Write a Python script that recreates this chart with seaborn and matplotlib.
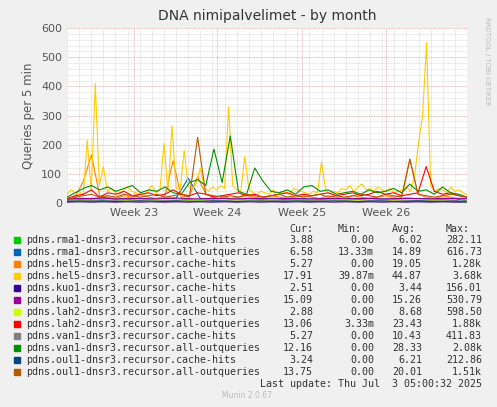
import numpy as np
import matplotlib
matplotlib.use("Agg")
import matplotlib.pyplot as plt
import seaborn as sns

# values (queries per 5 min)
hel5_all = [30, 45, 35, 40, 25, 215, 40, 410, 60, 125,
            40, 50, 35, 30, 45, 55, 40, 35, 30, 25,
            40, 60, 35, 45, 205, 40, 265, 50, 45, 180,
            60, 45, 70, 120, 50, 40, 55, 45, 60, 50,
            330, 60, 45, 40, 160, 50, 35, 30, 40, 35,
            30, 45, 25, 40, 35, 30, 50, 45, 40, 35,
            30, 40, 35, 140, 45, 30, 40, 35, 50, 45,
            60, 40, 55, 65, 45, 50, 40, 55, 45, 40,
            50, 35, 40, 45, 55, 40, 90, 205, 300, 550,
            60, 40, 50, 45, 35, 55, 40, 45, 35, 30]
van1_all = [20, 35, 50, 60, 45, 55, 40, 50, 60, 35,
            45, 40, 55, 35, 30, 70, 80, 60, 185, 70,
            230, 40, 30, 120, 75, 40, 35, 45, 30, 55,
            60, 40, 45, 30, 35, 40, 30, 45, 35, 40,
            50, 35, 65, 40, 45, 30, 55, 35, 30, 20]
lah2_all = [15, 25, 30, 45, 20, 35, 30, 40, 25, 30,
            35, 25, 30, 45, 30, 25, 35, 30, 20, 25,
            30, 35, 25, 30, 20, 25, 30, 35, 25, 30,
            25, 30, 35, 25, 30, 35, 25, 30, 40, 30,
            35, 25, 30, 35, 125, 40, 30, 35, 25, 20]
oul1_all = [10, 20, 25, 30, 20, 25, 20, 30, 25, 20,
            25, 30, 20, 25, 30, 20, 225, 30, 25, 20,
            25, 20, 30, 25, 20, 25, 30, 20, 25, 20,
            25, 30, 20, 25, 20, 25, 30, 25, 20, 30,
            25, 20, 150, 30, 25, 20, 25, 30, 25, 20]
hel5_hits = [10, 20, 75, 165, 25, 20, 15, 25, 20, 30,
             20, 15, 25, 145, 20, 25, 90, 30, 20, 25,
             15, 20, 25, 20, 15, 25, 20, 15, 20, 25,
             20, 15, 25, 20, 15, 25, 20, 15, 20, 25,
             20, 25, 150, 30, 20, 15, 25, 20, 15, 10]
rma1_hits = [5, 8, 6, 7, 5, 9, 6, 8, 7, 6, 10, 8, 7, 6, 5, 7, 6, 8, 5, 6,
             7, 5, 6, 8, 7, 6, 5, 7, 8, 6, 5, 7, 6, 4]
rma1_all = [12, 15, 14, 18, 13, 16, 15, 14, 17, 16, 85, 15, 14, 16, 13, 15, 14, 16, 12, 15,
            14, 13, 15, 16, 14, 15, 13, 14, 16, 15, 14, 13, 15, 7]
kuo1_hits = [3, 4, 3, 4, 3, 4, 3, 4, 3, 4, 3, 4, 3, 4, 3, 4, 3, 4, 3, 4,
             3, 4, 3, 4, 3, 4, 3, 4, 3, 4, 3, 4, 3, 3]
kuo1_all = [14, 16, 15, 17, 14, 15, 16, 14, 15, 17, 15, 14, 16, 15, 14, 16, 15, 14, 16, 15,
            14, 15, 16, 14, 15, 16, 14, 15, 16, 15, 14, 16, 15, 15]
lah2_hits = [6, 9, 8, 10, 7, 9, 8, 7, 10, 9, 8, 7, 9, 8, 10, 7, 8, 9, 7, 8,
             9, 8, 7, 10, 9, 8, 7, 9, 8, 10, 9, 8, 7, 3]
van1_hits = [8, 12, 10, 11, 9, 12, 10, 11, 9, 10, 12, 11, 10, 9, 11, 10, 12, 9, 10, 11,
             10, 9, 11, 10, 12, 9, 10, 11, 10, 9, 11, 10, 9, 5]
oul1_hits = [5, 7, 6, 7, 5, 6, 7, 6, 5, 7, 6, 5, 7, 6, 5, 6, 7, 5, 6, 7,
             6, 5, 7, 6, 5, 6, 7, 5, 6, 7, 6, 5, 6, 3]

names = ["pdns.rma1-dnsr3.recursor.cache-hits", "pdns.rma1-dnsr3.recursor.all-outqueries",
         "pdns.hel5-dnsr3.recursor.cache-hits", "pdns.hel5-dnsr3.recursor.all-outqueries",
         "pdns.kuo1-dnsr3.recursor.cache-hits", "pdns.kuo1-dnsr3.recursor.all-outqueries",
         "pdns.lah2-dnsr3.recursor.cache-hits", "pdns.lah2-dnsr3.recursor.all-outqueries",
         "pdns.van1-dnsr3.recursor.cache-hits", "pdns.van1-dnsr3.recursor.all-outqueries",
         "pdns.oul1-dnsr3.recursor.cache-hits", "pdns.oul1-dnsr3.recursor.all-outqueries"]
series = [rma1_hits, rma1_all, hel5_hits, hel5_all, kuo1_hits, kuo1_all,
          lah2_hits, lah2_all, van1_hits, van1_all, oul1_hits, oul1_all]
colors = ["#00CC00", "#0066B3", "#FF8000", "#FFCC00", "#330099", "#990099",
          "#CCFF00", "#FF0000", "#808080", "#008F00", "#00487D", "#B35A00"]
cur = ["3.88", "6.58", "5.27", "17.91", "2.51", "15.09", "2.88", "13.06", "5.27", "12.16", "3.24", "13.75"]
mins = ["0.00", "13.33m", "0.00", "39.87m", "0.00", "0.00", "0.00", "3.33m", "0.00", "0.00", "0.00", "0.00"]
avgs = ["6.02", "14.89", "19.05", "44.87", "3.44", "15.26", "8.68", "23.43", "10.43", "28.33", "6.21", "20.01"]
maxs = ["282.11", "616.73", "1.28k", "3.68k", "156.01", "530.79", "598.50", "1.88k", "411.83", "2.08k", "212.86", "1.51k"]

week_pos = [5.5, 12.4, 19.4, 26.3]
week_labels = ["Week 23", "Week 24", "Week 25", "Week 26"]
span_days = 33

sns.set_style("white")
plt.rcParams["font.family"] = ["DejaVu Sans"]
bg = "#F0F0F0"
fig = plt.figure(figsize=(4.97, 4.07), dpi=100, facecolor=bg)
ax = fig.add_axes([67 / 497, 1 - 203 / 407, 400 / 497, 175 / 407])
ax.set_facecolor("white")

for vals, c in zip(series, colors):
    x = np.linspace(0, span_days, len(vals))
    sns.lineplot(x=x, y=vals, color=c, lw=0.8, ax=ax)

ax.set_xlim(0, span_days)
ax.set_ylim(0, 600)
ax.set_yticks(range(0, 601, 100))
ax.set_yticks(range(0, 601, 20), minor=True)
ax.set_xticks(week_pos)
ax.set_xticklabels(week_labels)
ax.set_xticks(np.arange(0, span_days + 1, 1), minor=True)
ax.grid(which="minor", color="#CCCCCC", ls=(0, (1, 1)), lw=0.5)
ax.grid(which="major", color="#E0A0A0", ls=(0, (1, 1)), lw=0.6)
ax.tick_params(length=0, labelsize=8, colors="#555555", which="both")
for s in ax.spines.values():
    s.set_visible(False)
ax.set_ylabel("Queries per 5 min", fontsize=8.5, color="#555555")
ax.set_title("DNA nimipalvelimet - by month", fontsize=10, color="#333333", pad=6)

fig.text(487 / 497, 0.85, "RRDTOOL / TOBI OETIKER", rotation=270, fontsize=5,
         color="#BBBBBB", ha="center", va="center")

mono = dict(family="DejaVu Sans Mono", fontsize=7.2, color="#333333")
hy = 229
for xp, t in [(313, "Cur:"), (362, "Min:"), (416, "Avg:"), (470, "Max:")]:
    fig.text(xp / 497, 1 - hy / 407, t, ha="right", va="center", **mono)
for i, n in enumerate(names):
    yp = 1 - (240 + 12 * i) / 407
    fig.patches.append(plt.Rectangle((14 / 497, yp - 3 / 407), 6 / 497, 6 / 407,
                                     transform=fig.transFigure, color=colors[i]))
    fig.text(26 / 497, yp, n, ha="left", va="center", **mono)
    fig.text(313 / 497, yp, cur[i], ha="right", va="center", **mono)
    fig.text(374 / 497, yp, mins[i], ha="right", va="center", **mono)
    fig.text(422 / 497, yp, avgs[i], ha="right", va="center", **mono)
    fig.text(482 / 497, yp, maxs[i], ha="right", va="center", **mono)
fig.text(482 / 497, 1 - 384 / 407, "Last update: Thu Jul  3 05:00:32 2025",
         ha="right", va="center", **mono)
fig.text(247 / 497, 1 - 396 / 407, "Munin 2.0.67", ha="center", va="center",
         fontsize=5.5, color="#BBBBBB")

fig.savefig("out.png", dpi=100, facecolor=bg)
